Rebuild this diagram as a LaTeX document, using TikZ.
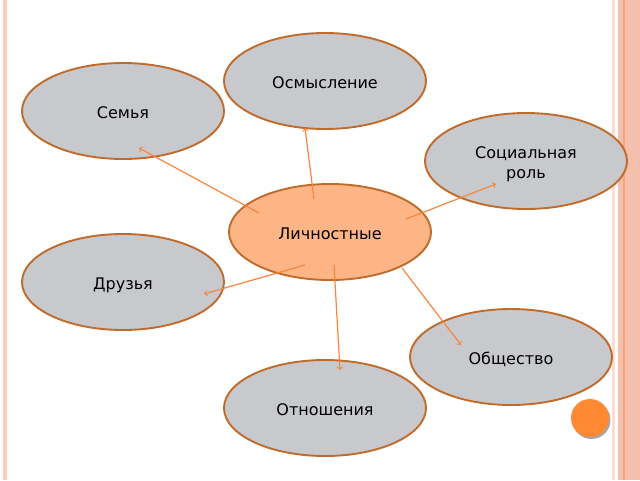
\documentclass[tikz,border=0pt]{standalone}
\usepackage[rgb]{xcolor}
\usepackage{fontspec}
\setmainfont{DejaVu Sans}
\usepackage{tikz}
\usetikzlibrary{shapes.geometric}
\newdimen\ovalW
\newdimen\ovalH
\setlength{\ovalW}{202pt}
\setlength{\ovalH}{96pt}
\definecolor{ovalgray}{HTML}{C8C9CD}
\definecolor{ovalrim}{HTML}{C06A2B}
\definecolor{corefill}{HTML}{FDB585}
\definecolor{linkorange}{HTML}{F7863C}
\definecolor{dotorange}{HTML}{FF8833}
\definecolor{stripepink}{HTML}{FFCBBB}
\definecolor{stripelight}{HTML}{FFDCD0}
\definecolor{stripesalmon}{HTML}{F5BFAE}
\definecolor{stripeline}{HTML}{F9A27B}

\begin{document}
\begin{tikzpicture}[x=1pt, y=-1pt,
    ovalnode/.style={ellipse, draw=ovalrim, line width=1.9pt, fill=ovalgray,
      minimum width=\ovalW, minimum height=\ovalH, inner sep=0pt,
      font=\fontsize{16}{20}\selectfont, align=center,
      text height=14.5pt, text depth=0.5pt},
    link/.style={draw=linkorange, line width=1.2pt, ->},
  ]
    \useasboundingbox (0,0) rectangle (640,480);
    % slide border stripes
    \fill[stripepink] (3,0) rectangle (7,480);
    \fill[stripelight] (612,0) rectangle (615,480);
    \fill[stripesalmon] (618,0) rectangle (640,480);
    \fill[stripeline] (622.5,0) rectangle (624.5,480);
    % dot
    \fill[gray!70] (591.5,420) circle (19);
    \fill[dotorange] (590,418) circle (19);

    \node[ovalnode] (osmysl) at (325,81) {Осмысление};
    \node[ovalnode] (semya) at (123,111) {Семья};
    \node[ovalnode, text height={}, text depth={}] (socrol) at (526,161)
      {\rule{0pt}{18pt}Социальная\\роль};
    \node[ovalnode, fill=corefill] (lichn) at (330,232) {Личностные};
    \node[ovalnode] (druzya) at (123,282) {Друзья};
    \node[ovalnode] (obsch) at (511,357) {Общество};
    \node[ovalnode] (otnosh) at (325,408) {Отношения};

    \draw[link] ([shift={(-71,-19)}]lichn.center) -- ([shift={(16,37)}]semya.center);
    \draw[link] ([shift={(-16,-33)}]lichn.center) -- ([shift={(-20,47)}]osmysl.center);
    \draw[link] ([shift={(76,-13)}]lichn.center) -- ([shift={(-30,23)}]socrol.center);
    \draw[link] ([shift={(-25,33)}]lichn.center) -- ([shift={(81,12)}]druzya.center);
    \draw[link] ([shift={(4,33)}]lichn.center) -- ([shift={(15,-38)}]otnosh.center);
    \draw[link] ([shift={(72,36)}]lichn.center) -- ([shift={(-50,-12)}]obsch.center);
  \end{tikzpicture}
\end{document}
